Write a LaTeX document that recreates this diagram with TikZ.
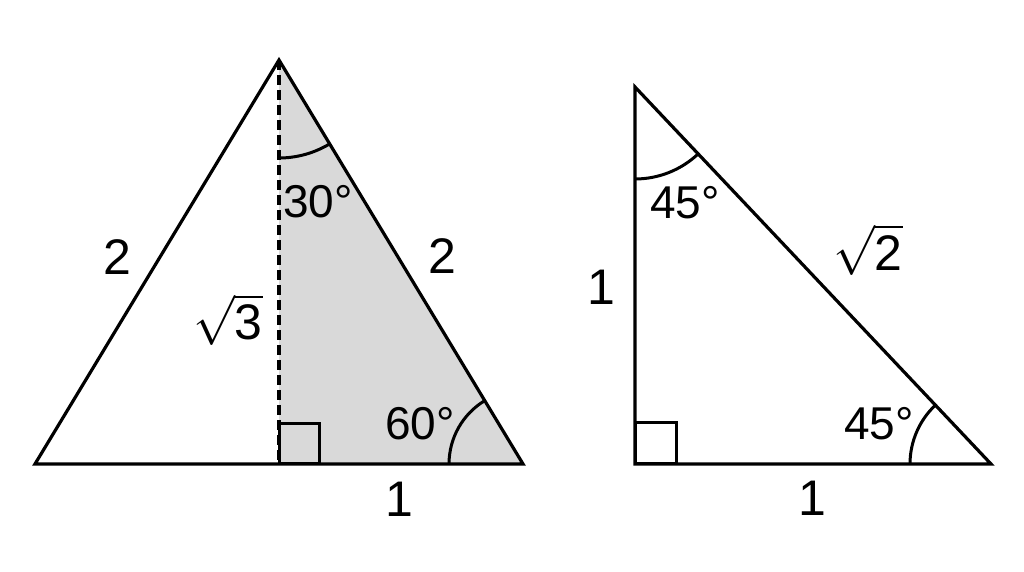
\RequirePackage{fix-cm}
\documentclass[tikz,border=0pt]{standalone}
\usepackage{fontspec}
\setmainfont{Liberation Sans}
\usepackage{amsmath}
\usetikzlibrary{calc}
\usetikzlibrary{angles}
\usetikzlibrary{positioning}

\tikzset{
  edge/.style={line width=3.2pt},
  sidelabel/.style={font=\fontsize{50}{60}\selectfont, inner sep=0pt},
  anglabel/.style={font=\fontsize{46}{54}\selectfont, inner sep=0pt},
  mark/.style={draw, line width=3pt, angle radius=#1}
}

\begin{document}
\begin{tikzpicture}[x=1pt, y=1pt]
\useasboundingbox (0,0) rectangle (1024,572);
% left triangle
\coordinate (A) at (35, 108);
\coordinate (B) at (523, 108);
\coordinate (C) at (279, 512);
\coordinate (D) at (279, 108);
\fill [gray!30] (D) -- (B) -- (C) -- cycle;
\draw [line width=3.4pt, dash pattern=on 10pt off 5pt] (C) -- (D);
\draw [line width=3pt] (D) rectangle ++(40, 40);
\draw [edge] (A) -- (B) -- (C) -- cycle;
\pic [mark=98pt] {angle = D--C--B};
\pic [mark=74pt] {angle = C--B--A};
\node [sidelabel] (LA) at (117, 315) {2};
\node [sidelabel] (LB) at (442, 316) {2};
\node [sidelabel] (LH) at (228, 252) {$\sqrt{\mbox{3}}$};
\node [sidelabel] (LD) at (399, 73) {1};
\node [anglabel] (LC) at (318, 370) {30°};
\node [anglabel] (LE) at (420, 148) {60°};
% right triangle
\coordinate (P) at (635, 108);
\coordinate (Q) at (991, 108);
\coordinate (R) at (635, 485);
\draw [line width=3pt] (P) rectangle ++(41, 41);
\draw [edge] (P) -- (Q) -- (R) -- cycle;
\pic [mark=92pt] {angle = P--R--Q};
\pic [mark=81pt] {angle = R--Q--P};
\node [sidelabel] (RP) at (601, 285) {1};
\node [sidelabel] (RQ) at (812, 74) {1};
\node [sidelabel] (RH) at (868, 322) {$\sqrt{\mbox{2}}$};
\node [anglabel] (RA) at (685, 369) {45°};
\node [anglabel] (RB) at (879, 148) {45°};
\end{tikzpicture}
\end{document}
